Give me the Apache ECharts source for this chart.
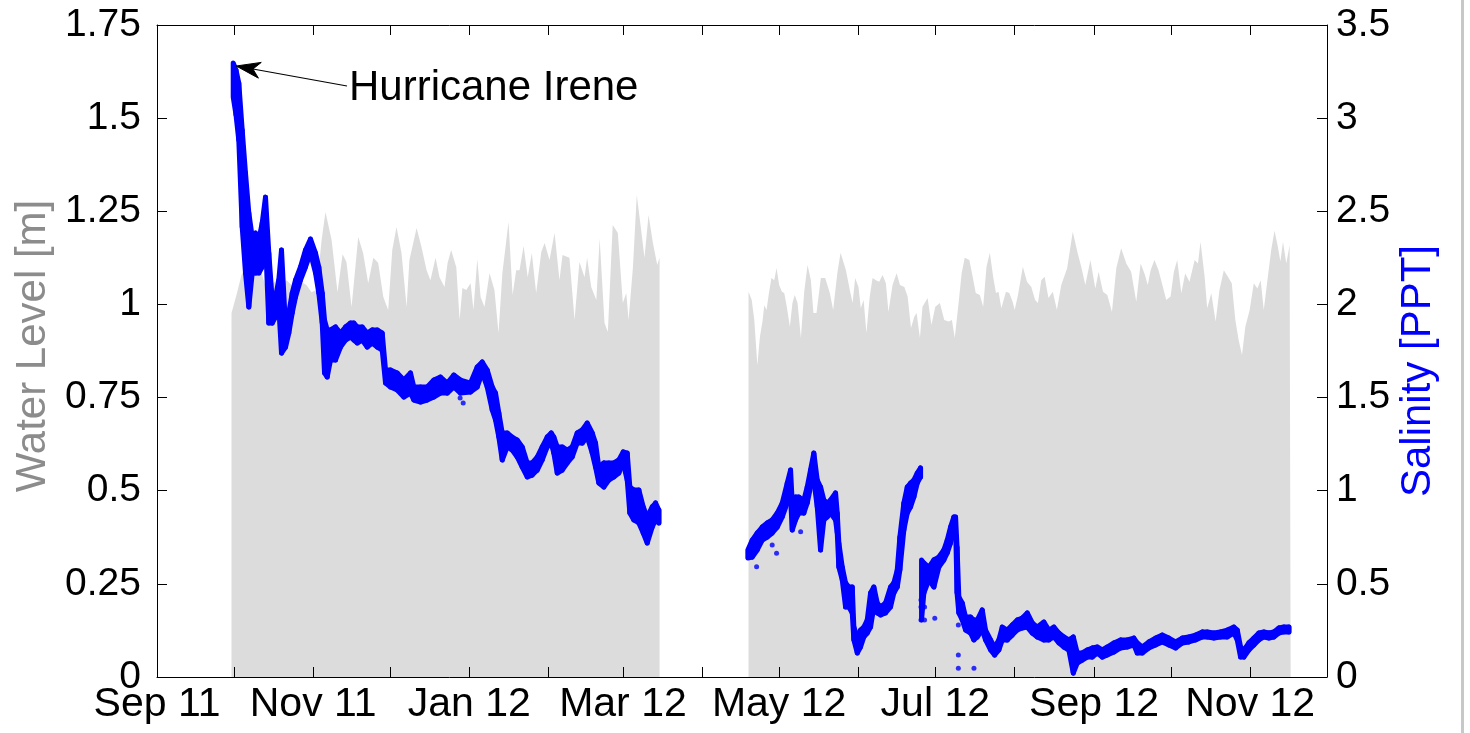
<!DOCTYPE html>
<html>
<head>
<meta charset="utf-8">
<script src="https://cdn.jsdelivr.net/npm/echarts@6/dist/echarts.min.js"></script>
<style>
html,body{margin:0;padding:0;background:#fff;}
#chart{width:1470px;height:733px;}
</style>
</head>
<body>
<div id="chart"></div>
<script>
// ---- axis / tick data ----
const startDate = '2011-09-01';          // day 0 of the series
const endDay = 457;                        // 2012-12-01
const xLabelDates = ['2011-09-01','2011-11-01','2012-01-01','2012-03-01','2012-05-01','2012-07-01','2012-09-01','2012-11-01'];
const xTickLabels = ['Sep 11','Nov 11','Jan 12','Mar 12','May 12','Jul 12','Sep 12','Nov 12'];
const xTickDates = ['2011-09-01','2011-10-01','2011-11-01','2011-12-01','2012-01-01','2012-02-01','2012-03-01','2012-04-01','2012-05-01','2012-06-01','2012-07-01','2012-08-01','2012-09-01','2012-10-01','2012-11-01','2012-12-01'];

// ---- water level [m] (days since startDate) ----
const wlDay1 = [29.1,31.05,33.0,34.96,36.9,38.87,40.8,42.8,44.7,46.7,48.6,50.6,52.5,54.5,56.4,58.4,60.35,62.3,64.3,65.8,68.2,70.5,72.5,74.0,76.0,78.6,80.5,82.5,84.5,86.4,88.4,90.3,91.9,93.55,95.5,97.5,98.6,101.4,103.3,105.3,106.8,108.8,110.35,112.3,113.5,114.9,116.9,118.2,119.3,120.8,122.5,123.6,125.1,126.4,127.9,129.9,131.8,133.4,134.9,137.3,138.9,140.3,141.6,143.2,144.8,146.4,148.1,150.1,151.4,153.3,155.3,157.2,158.4,161.1,163.1,165.0,167.0,168.0,169.6,171.6,172.9,174.8,176.1,178.0,180.0,181.95,183.3,184.2,185.9,187.4,189.1,190.4,192.0,193.7,195.4,196.3];
const wlVal1 = [0.977,1.025,1.079,1.106,1.114,1.098,1.086,1.039,1.052,1.065,1.052,1.065,1.052,1.039,1.060,1.052,1.033,1.039,1.173,1.248,1.173,1.033,1.135,1.114,0.993,1.181,1.138,1.057,1.125,1.111,1.020,0.985,1.146,1.208,1.138,0.993,1.119,1.205,1.154,1.092,1.065,1.125,1.073,1.047,1.111,1.146,1.100,0.958,1.044,1.039,1.057,0.985,1.122,1.020,0.993,1.084,1.039,0.923,1.084,1.221,1.025,1.092,1.092,1.157,1.073,1.138,1.031,1.141,1.165,1.119,1.192,1.065,1.133,1.125,0.958,1.114,1.073,1.125,1.047,1.012,1.176,0.950,0.926,1.213,1.192,1.004,1.031,0.958,1.100,1.294,1.200,1.125,1.240,1.165,1.106,1.125];
const wlDay2 = [231.05,232.3,233.3,234.5,235.5,236.5,237.2,238.1,238.9,240.0,241.1,242.0,243.0,244.1,245.0,246.0,247.2,248.2,249.1,250.2,251.5,252.8,254.1,255.4,256.4,257.6,259.3,261.0,262.8,264.1,265.8,267.0,269.1,270.6,271.7,272.7,274.0,274.9,276.0,277.1,278.4,279.5,280.8,282.1,283.4,284.7,285.7,287.3,288.9,290.2,291.9,293.2,294.5,295.8,296.7,298.0,299.0,301.0,302.5,304.0,305.8,307.5,309.2,310.5,311.6,313.1,314.3,315.5,317.3,318.6,319.8,321.4,322.7,324.0,325.3,326.6,327.7,328.7,329.8,331.6,332.9,334.2,335.0,336.3,338.2,339.8,341.5,343.0,344.1,345.4,346.7,348.2,349.9,351.5,353.2,355.5,357.7,359.5,361.0,362.6,364.6,366.5,367.8,369.5,371.2,373.0,374.7,376.6,378.6,380.5,382.5,384.2,385.7,387.0,388.1,389.6,391.2,392.9,394.2,395.9,397.2,398.5,400.1,401.6,403.3,405.3,406.6,407.6,409.2,410.2,411.8,413.5,415.0,416.7,418.3,419.8,421.2,422.5,423.8,425.1,426.8,428.4,429.8,431.1,432.3,433.9,435.2,436.5,437.8,438.8,439.8,441.1,442.4,442.8];
const wlVal2 = [1.034,1.012,0.958,0.837,0.913,0.954,0.998,0.985,1.025,1.071,1.065,1.098,1.052,1.034,1.031,0.994,0.940,1.004,1.025,1.004,0.910,1.034,1.106,1.065,0.977,0.977,1.071,1.071,1.031,0.985,1.088,1.139,1.092,1.039,1.004,1.071,1.047,0.990,1.012,0.923,1.021,1.071,1.065,1.061,1.079,1.057,0.980,1.052,1.084,1.052,1.047,1.021,0.937,0.967,0.977,0.910,0.994,1.017,0.945,0.994,1.004,0.958,0.954,0.958,0.910,1.004,1.084,1.125,1.119,1.074,1.031,1.025,0.994,1.101,1.139,1.074,1.031,1.034,0.990,1.034,1.031,1.007,0.985,1.025,1.101,1.061,1.047,1.012,1.004,1.065,1.074,1.017,1.034,0.985,1.052,1.097,1.195,1.141,1.101,1.052,1.119,1.043,1.088,1.034,1.025,0.980,1.097,1.151,1.110,1.088,1.007,1.110,1.083,1.052,1.092,1.119,1.092,1.047,1.012,1.021,1.088,1.119,1.030,1.083,1.061,1.119,1.110,1.168,1.074,0.990,1.030,0.954,1.039,1.092,1.074,1.057,0.958,0.904,0.864,0.940,0.985,1.057,1.043,1.065,0.985,1.074,1.146,1.198,1.155,1.115,1.168,1.110,1.159,1.159];

// ---- salinity [PPT]: upper and lower edge of the dotted band ----
const salDay1 = [29.77,30.86,31.95,33.28,34.57,35.86,37.19,38.48,39.77,41.09,42.38,43.67,45.0,46.29,47.58,48.63,50.2,51.48,52.81,54.1,56.05,58.0,59.96,61.91,63.2,64.53,65.43,66.48,67.77,69.73,71.68,73.63,75.59,76.88,78.2,80.16,82.11,84.06,86.02,87.97,89.26,91.21,93.83,96.41,99.02,100.31,102.93,105.55,108.13,110.74,113.36,115.94,118.55,122.46,125.08,127.03,128.98,130.94,132.23,133.52,134.84,136.8,138.75,140.7,142.66,144.61,146.56,148.52,150.47,152.42,153.98,155.0,156.33,158.28,160.23,162.19,164.14,166.09,168.05,170.0,171.29,172.58,174.53,176.48,178.44,180.39,182.11,183.67,184.69,186.25,188.2,189.92,191.48,193.44,194.73,196.02];
const salHi1 = [3.296,3.258,3.188,2.936,2.705,2.491,2.362,2.383,2.346,2.437,2.576,2.276,2.024,2.040,2.131,2.292,1.879,1.954,2.061,2.131,2.201,2.292,2.351,2.276,2.201,2.061,1.916,1.863,1.863,1.879,1.846,1.879,1.900,1.900,1.879,1.879,1.846,1.863,1.863,1.846,1.648,1.648,1.632,1.594,1.632,1.557,1.557,1.557,1.594,1.610,1.578,1.621,1.594,1.578,1.664,1.691,1.648,1.557,1.524,1.417,1.310,1.310,1.288,1.272,1.235,1.149,1.149,1.181,1.235,1.288,1.310,1.288,1.235,1.235,1.218,1.235,1.310,1.326,1.363,1.310,1.256,1.127,1.149,1.149,1.149,1.165,1.208,1.202,1.020,1.004,1.004,0.913,0.859,0.913,0.934,0.896];
const salLo1 = [3.113,3.017,2.882,2.415,2.169,1.986,2.169,2.169,2.169,2.201,2.346,1.900,1.900,1.932,1.986,1.739,1.771,1.846,1.954,2.040,2.131,2.201,2.276,2.169,2.061,1.900,1.632,1.610,1.702,1.702,1.771,1.809,1.825,1.809,1.793,1.809,1.771,1.793,1.771,1.755,1.578,1.557,1.541,1.503,1.524,1.487,1.476,1.487,1.503,1.524,1.524,1.557,1.524,1.530,1.557,1.632,1.557,1.433,1.380,1.288,1.165,1.235,1.218,1.181,1.127,1.074,1.084,1.111,1.165,1.235,1.256,1.202,1.095,1.111,1.149,1.181,1.256,1.256,1.288,1.202,1.127,1.041,1.020,1.057,1.074,1.095,1.149,1.057,0.880,0.843,0.827,0.773,0.719,0.805,0.843,0.827];

const salDay2 = [230.78,232.5,234.45,236.41,238.36,240.31,242.27,244.22,246.17,247.46,248.13,249.41,250.70,252.66,253.98,255.27,256.56,257.89,259.18,260.47,261.80,263.09,265.04,265.7,266.33,267.66,268.95,270.23,271.56,272.19,273.52,274.8,276.09,277.42,278.71,280.0,281.33,282.62,284.57,286.52,287.81,289.14,290.16,291.72,293.05,294.34,295.63,296.95,298.24];
const salHi2 = [0.682,0.735,0.773,0.805,0.827,0.843,0.880,0.934,1.041,1.111,0.934,0.966,0.966,0.950,1.020,1.111,1.202,1.057,1.020,0.950,0.934,0.950,0.988,0.880,0.719,0.590,0.505,0.483,0.483,0.268,0.215,0.252,0.268,0.306,0.451,0.483,0.397,0.376,0.397,0.483,0.505,0.574,0.751,0.934,1.020,1.041,1.057,1.095,1.122];
const salLo2 = [0.639,0.644,0.682,0.735,0.751,0.773,0.805,0.859,0.934,0.966,0.789,0.843,0.880,0.880,0.934,1.020,1.057,0.913,0.682,0.843,0.859,0.880,0.843,0.773,0.590,0.521,0.376,0.376,0.344,0.199,0.129,0.161,0.215,0.236,0.268,0.376,0.344,0.333,0.344,0.376,0.451,0.483,0.574,0.789,0.880,0.913,0.966,1.041,1.074];

const salDay3 = [298.63,299.53,301.48,303.44,305.39,307.34,308.67,309.96,311.25,311.91,312.5,313.2,314.53,315.82,317.77,319.06,320.39,322.34,323.63,325.59,327.15,328.83,330.16,332.11,334.06,336.02,337.97,339.92,341.88,343.83,346.41,348.36,350.31,352.27,354.22,356.17,357.89,359.45,361.41,363.36,365.31,367.27,369.22,371.17,373.75,376.37,378.98,381.56,382.89,384.84,387.42,390.04,392.66,395.23,397.85,400.47,403.05,405.66,408.28,410.23,412.81,415.43,418.05,420.63,421.95,423.24,424.53,426.48,428.44,430.39,432.34,434.3,436.25,438.2,440.16,442.11];
const salHi3 = [0.628,0.612,0.590,0.628,0.644,0.682,0.735,0.805,0.859,0.859,0.698,0.429,0.397,0.322,0.322,0.306,0.306,0.360,0.252,0.199,0.161,0.199,0.268,0.252,0.279,0.306,0.317,0.344,0.290,0.268,0.295,0.252,0.268,0.236,0.215,0.199,0.215,0.129,0.129,0.145,0.156,0.161,0.145,0.161,0.183,0.199,0.199,0.209,0.183,0.161,0.188,0.209,0.225,0.209,0.188,0.209,0.215,0.225,0.242,0.242,0.236,0.242,0.252,0.268,0.252,0.161,0.145,0.183,0.209,0.236,0.242,0.236,0.242,0.263,0.268,0.268];
const salLo3 = [0.306,0.451,0.521,0.483,0.590,0.628,0.666,0.719,0.789,0.827,0.451,0.344,0.306,0.252,0.236,0.199,0.215,0.252,0.199,0.145,0.118,0.145,0.199,0.199,0.225,0.252,0.263,0.268,0.236,0.215,0.199,0.199,0.215,0.183,0.161,0.145,0.021,0.075,0.091,0.107,0.107,0.129,0.107,0.118,0.134,0.156,0.161,0.172,0.129,0.129,0.156,0.172,0.188,0.172,0.156,0.183,0.188,0.199,0.215,0.215,0.209,0.215,0.215,0.236,0.199,0.107,0.107,0.145,0.172,0.199,0.215,0.209,0.215,0.236,0.242,0.242];

// isolated salinity readings
const outDay = [119.6,118.4,234.2,240.3,242.0,251.4,298.4,298.4,298.4,299.8,299.8,303.8,313.0,313.0,313.0,319.1];
const outVal = [1.471,1.498,0.592,0.709,0.664,0.780,0.413,0.376,0.306,0.376,0.306,0.315,0.279,0.118,0.047,0.047];

const annotationText = 'Hurricane Irene';

// ---- build ----
const DAY = 86400000;
const BASE = Date.parse(startDate + 'T00:00:00Z');
const dayOf = s => Math.round((Date.parse(s + 'T00:00:00Z') - BASE) / DAY);

function pairs(days, vals) {
  const n = Math.min(days.length, vals.length), out = [];
  for (let i = 0; i < n; i++) out.push([days[i], vals[i]]);
  return out;
}

const labelDays = xLabelDates.map(dayOf);
const tickDays = xTickDates.map(dayOf);
const labelMap = {};
labelDays.forEach((d, i) => { labelMap[d] = xTickLabels[i]; });

const FONT = "'Liberation Sans', Arial, Helvetica, sans-serif";
const FS = 39;       // tick labels
const FS_X = 41;     // date labels
const FS_T = 42;     // titles / annotation
const GRAY = '#dcdcdc';
const BLUE = '#0000ff';

const chart = echarts.init(document.getElementById('chart'), null, {renderer: 'canvas'});

// salinity band between lower and upper edge, drawn through the axes with api.coord
function bandSeries(days, hi, lo) {
  const n = Math.min(days.length, hi.length, lo.length);
  const data = [];
  for (let i = 0; i < n; i++) data.push([days[i], hi[i], lo[i]]);
  return {
    type: 'custom', xAxisIndex: 0, yAxisIndex: 1, silent: true, z: 5,
    data: data, encode: {x: 0, y: [1, 2]},
    renderItem: function (params, api) {
      const i = params.dataIndex;
      const a = data[i], b = data[Math.min(i + 1, data.length - 1)];
      const pts = [api.coord([a[0], a[1]]), api.coord([b[0], b[1]]),
                   api.coord([b[0], b[2]]), api.coord([a[0], a[2]])];
      return {
        type: 'polygon', shape: {points: pts},
        style: {fill: BLUE, stroke: BLUE, lineWidth: 5, lineJoin: 'round', lineCap: 'round'}
      };
    }
  };
}
const grayArea = (data) => ({
  type: 'line', yAxisIndex: 0, xAxisIndex: 0, data: data,
  showSymbol: false, symbol: 'none', smooth: false, silent: true,
  lineStyle: {width: 0, color: GRAY},
  areaStyle: {color: GRAY, opacity: 1},
  z: 2
});

const xAxisBase = (pos, showLabel) => ({
  type: 'value', position: pos, z: 10,
  min: 0, max: endDay,
  splitLine: {show: false},
  axisLine: {show: true, onZero: false, lineStyle: {color: '#000', width: 1}},
  axisTick: {show: true, inside: true, length: 10, lineStyle: {color: '#000', width: 1},
             customValues: tickDays},
  axisLabel: {show: showLabel, color: '#000', fontSize: FS_X, fontFamily: FONT, margin: 7,
              hideOverlap: false, showMinLabel: true, showMaxLabel: true,
              customValues: labelDays,
              formatter: v => (labelMap[Math.round(v)] || '')}
});

const option = {
  animation: false,
  backgroundColor: '#ffffff',
  textStyle: {fontFamily: FONT},
  grid: {left: 157, top: 25, width: 1170, height: 652, containLabel: false, outerBoundsMode: 'none'},
  xAxis: [xAxisBase('bottom', true), xAxisBase('top', false)],
  yAxis: [{
    type: 'value', position: 'left', min: 0, max: 1.75, interval: 0.25, z: 10,
    splitLine: {show: false},
    axisLine: {show: true, onZero: false, lineStyle: {color: '#000', width: 1}},
    axisTick: {show: true, inside: true, length: 10, lineStyle: {color: '#000', width: 1}},
    axisLabel: {color: '#000', fontSize: FS, fontFamily: FONT, margin: 16}
  }, {
    type: 'value', position: 'right', min: 0, max: 3.5, interval: 0.5, z: 10,
    splitLine: {show: false},
    axisLine: {show: true, onZero: false, lineStyle: {color: '#000', width: 1}},
    axisTick: {show: true, inside: true, length: 10, lineStyle: {color: '#000', width: 1}},
    axisLabel: {color: '#000', fontSize: FS, fontFamily: FONT, margin: 9}
  }],
  series: [
    grayArea(pairs(wlDay1, wlVal1)),
    grayArea(pairs(wlDay2, wlVal2)),
    bandSeries(salDay1, salHi1, salLo1),
    bandSeries(salDay2, salHi2, salLo2),
    bandSeries(salDay3, salHi3, salLo3),
    {
      type: 'scatter', yAxisIndex: 1, xAxisIndex: 0, silent: true,
      data: pairs(outDay, outVal), symbol: 'circle', symbolSize: 5,
      itemStyle: {color: BLUE}, z: 5
    }
  ]
};
chart.setOption(option);

// annotation anchored on the salinity maximum
const tip0 = chart.convertToPixel({xAxisIndex: 0, yAxisIndex: 1}, [salDay1[0], salHi1[0]]);
const tip = [tip0[0] + 3, tip0[1] + 3];
const tail = [347, 86];
const dx = tip[0] - tail[0], dy = tip[1] - tail[1];
const L = Math.sqrt(dx * dx + dy * dy);
const ux = dx / L, uy = dy / L, nx = -uy, ny = ux;
const back = 24, half = 8, notch = 17;
const headPts = [
  [tip[0], tip[1]],
  [tip[0] - back * ux + half * nx, tip[1] - back * uy + half * ny],
  [tip[0] - notch * ux, tip[1] - notch * uy],
  [tip[0] - back * ux - half * nx, tip[1] - back * uy - half * ny]
];

chart.setOption({
  graphic: [
    {type: 'line', shape: {x1: tail[0], y1: tail[1], x2: tip[0] - notch * ux, y2: tip[1] - notch * uy},
     style: {stroke: '#000', lineWidth: 1.2}, z: 100},
    {type: 'polygon', shape: {points: headPts}, style: {fill: '#000', stroke: '#000', lineWidth: 1}, z: 100},
    {type: 'text', x: 349, y: 88, z: 100,
     style: {text: annotationText, fill: '#000', font: FS_T + 'px ' + FONT, textAlign: 'left', textVerticalAlign: 'middle'}},
    {type: 'text', x: 33, y: 346, rotation: Math.PI / 2, z: 100,
     style: {text: 'Water Level [m]', fill: '#8c8c8c', font: FS_T + 'px ' + FONT, textAlign: 'center', textVerticalAlign: 'middle'}},
    {type: 'text', x: 1418, y: 371, rotation: Math.PI / 2, z: 100,
     style: {text: 'Salinity [PPT]', fill: BLUE, font: FS_T + 'px ' + FONT, textAlign: 'center', textVerticalAlign: 'middle'}},
    {type: 'rect', shape: {x: 1461, y: 0, width: 3, height: 733}, style: {fill: '#c8c8c8'}, z: 100}
  ]
});
</script>
</body>
</html>
